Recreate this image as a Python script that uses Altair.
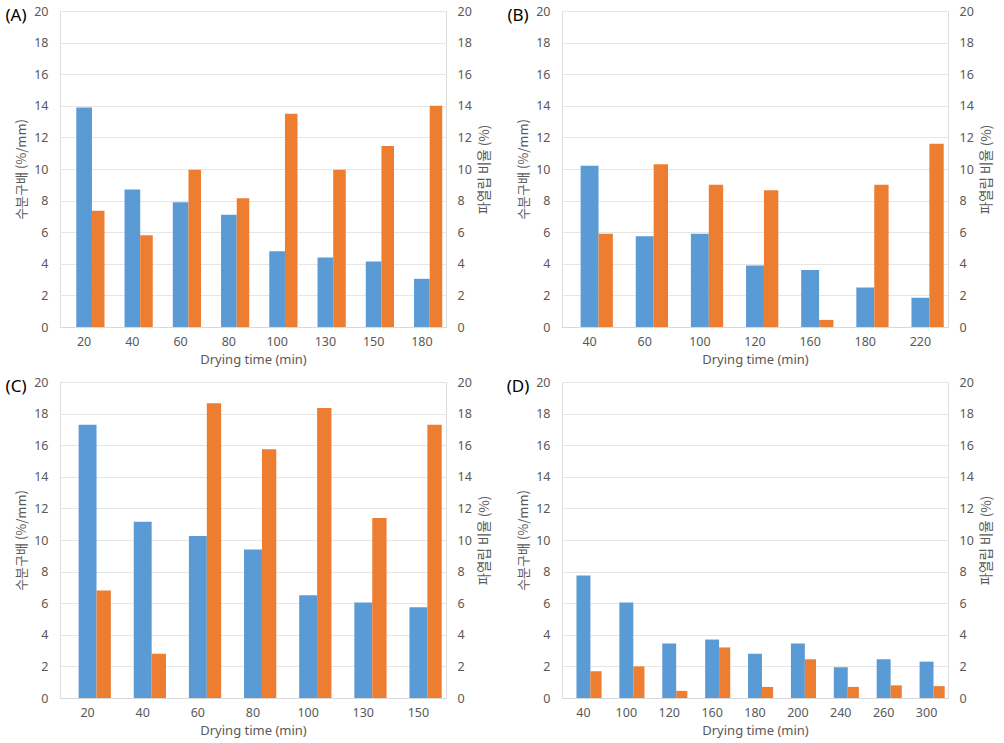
import altair as alt
import pandas as pd

# ---- data ----
a_times = ["20", "40", "60", "80", "100", "130", "150", "180"]
a_grad = [13.9, 8.7, 7.9, 7.1, 4.8, 4.4, 4.15, 3.05]
a_rupt = [7.35, 5.8, 9.95, 8.15, 13.5, 9.95, 11.45, 14.0]

b_times = ["40", "60", "100", "120", "160", "180", "220"]
b_grad = [10.2, 5.75, 5.9, 3.9, 3.6, 2.5, 1.85]
b_rupt = [5.9, 10.3, 9.0, 8.65, 0.45, 9.0, 11.6]

c_times = ["20", "40", "60", "80", "100", "130", "150"]
c_grad = [17.3, 11.15, 10.25, 9.4, 6.5, 6.05, 5.75]
c_rupt = [6.8, 2.8, 18.65, 15.75, 18.35, 11.4, 17.3]

d_times = ["40", "100", "120", "160", "180", "200", "240", "260", "300"]
d_grad = [7.75, 6.05, 3.45, 3.7, 2.8, 3.45, 1.95, 2.45, 2.3]
d_rupt = [1.7, 2.0, 0.45, 3.2, 0.7, 2.45, 0.7, 0.8, 0.75]

panels = [("(A)", a_times, a_grad, a_rupt),
          ("(B)", b_times, b_grad, b_rupt),
          ("(C)", c_times, c_grad, c_rupt),
          ("(D)", d_times, d_grad, d_rupt)]

left_title = "수분구배 (%/mm)"
right_title = "파열립 비율 (%)"
x_title = "Drying time (min)"
y_ticks = list(range(0, 21, 2))

BLUE = "#5b9bd5"
ORANGE = "#ed7d31"
GRAY = "#595959"
LFONT = "Noto Sans"
KFONT = "Noto Sans CJK KR"

W, H = 386, 316
BLUE_BAND = 0.325
ORANGE_BAND = 0.26


def panel(label, times, grad, rupt):
    df_g = pd.DataFrame({"time": times, "value": grad})
    df_r = pd.DataFrame({"time": times, "value": rupt})
    step = W / len(times)
    x = alt.X("time:N", sort=times,
              scale=alt.Scale(paddingInner=0, paddingOuter=0),
              axis=alt.Axis(title=x_title, labelAngle=0, ticks=False,
                            domainColor="#d9d9d9", labelColor=GRAY,
                            labelFont=LFONT, labelFontSize=12.5,
                            labelPadding=8, titleFont=LFONT,
                            titleFontSize=13, titleFontWeight="normal",
                            titleColor=GRAY, titlePadding=6))
    left = alt.Chart(df_g).mark_bar(
        color=BLUE, width={"band": BLUE_BAND}).encode(
        x=x,
        y=alt.Y("value:Q", scale=alt.Scale(domain=[0, 20], nice=False),
                axis=alt.Axis(title=left_title, values=y_ticks, ticks=False,
                              domain=False, gridColor="#e6e6e6",
                              labelColor=GRAY, labelFont=LFONT,
                              labelFontSize=12.5, labelPadding=12,
                              titleFont=KFONT, titleFontSize=13,
                              titleFontWeight="normal", titleColor=GRAY,
                              titlePadding=5)))
    right = alt.Chart(df_r).mark_bar(
        color=ORANGE, width={"band": ORANGE_BAND},
        xOffset=step * (BLUE_BAND + ORANGE_BAND) / 2).encode(
        x=x,
        y=alt.Y("value:Q", scale=alt.Scale(domain=[0, 20], nice=False),
                axis=alt.Axis(title=right_title, orient="right",
                              values=y_ticks, ticks=False, domain=False,
                              grid=False, labelColor=GRAY, labelFont=LFONT,
                              labelFontSize=12.5, labelPadding=11,
                              titleFont=KFONT, titleFontSize=13.5,
                              titleFontWeight="normal", titleColor=GRAY,
                              titleAngle=270, titleBaseline="top",
                              titlePadding=6)))
    lab = alt.Chart(pd.DataFrame({"t": [label]})).mark_text(
        font=LFONT, fontSize=17, color="#000000", align="center",
        baseline="middle").encode(
        text="t:N", x=alt.value(-44), y=alt.value(5))
    return alt.layer(left, right, lab).resolve_scale(y="independent").properties(
        width=W, height=H)


charts = [panel(*p) for p in panels]
chart = alt.vconcat(
    alt.hconcat(charts[0], charts[1], spacing=14),
    alt.hconcat(charts[2], charts[3], spacing=14),
    spacing=8,
).properties(padding={"left": 4, "top": 4, "right": 3, "bottom": 3}).configure_view(
    stroke=None).configure(background="white")

chart.save("out.html", embed_options={"renderer": "svg", "actions": False})
